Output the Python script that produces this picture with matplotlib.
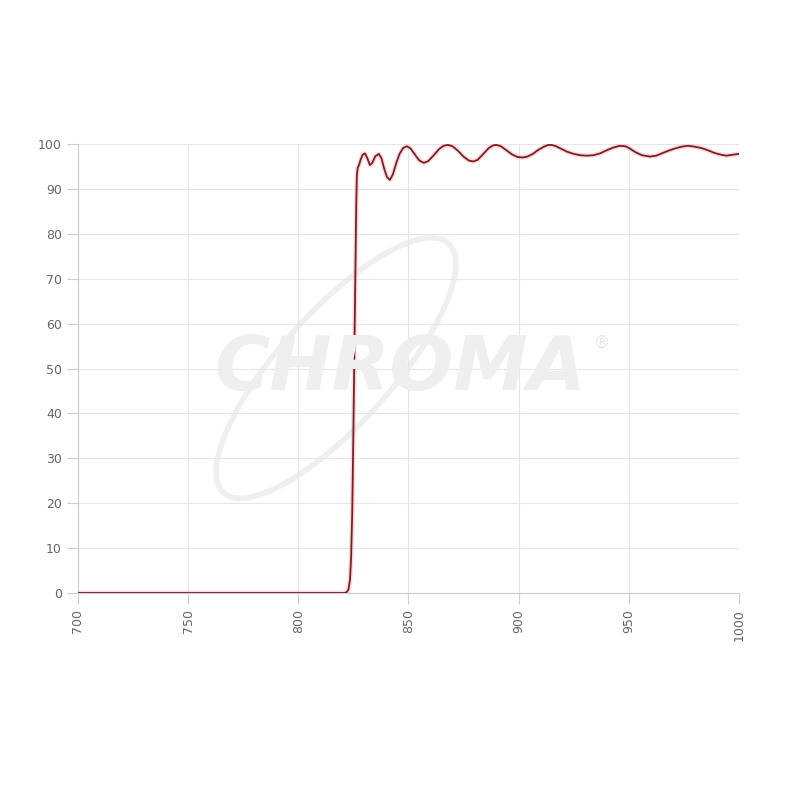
import numpy as np
import matplotlib
matplotlib.use('Agg')
import matplotlib.pyplot as plt
from matplotlib.patches import Ellipse

# wavelength (nm) and transmission (%)
wl = [700, 815, 821, 822, 822.8, 823.5, 824, 824.5, 825, 825.5, 826, 826.3, 826.6,
      827, 827.5, 828.3, 829.2, 830.3, 831.4, 832.5, 833.6, 835, 836.6, 837.8, 839,
      840.3, 841.6, 843, 844.5, 846, 847.6, 849.3, 851, 853, 855, 857, 859, 861.5,
      864, 866, 868, 870, 872.5, 875, 877.5, 879.5, 881.5, 884, 886.5, 888.5, 890,
      892, 894.5, 897, 899.5, 902, 904, 906.5, 909, 911.5, 913.5, 915, 917, 919.5,
      922, 925, 928, 931, 934, 937, 940, 943, 946, 948.5, 950.5, 953, 956, 959.6,
      962.5, 965, 968, 971, 974, 977, 980, 983, 986, 989, 992, 994.4, 997, 1000]
trans = [0, 0, 0, 0.2, 0.8, 3, 8, 18, 35, 55, 74, 86, 93,
         94.8, 95.2, 96.5, 97.6, 97.9, 96.8, 95.3, 95.8, 97.3, 97.8, 96.8, 94.5,
         92.6, 92.0, 93.3, 95.8, 97.8, 99.1, 99.5, 99.0, 97.6, 96.3, 95.8, 96.2, 97.5,
         98.9, 99.6, 99.8, 99.5, 98.5, 97.2, 96.3, 96.1, 96.5, 97.8, 99.1, 99.7, 99.8,
         99.5, 98.6, 97.7, 97.1, 97.0, 97.2, 97.8, 98.7, 99.4, 99.8, 99.8, 99.5, 98.9,
         98.3, 97.8, 97.5, 97.4, 97.5, 97.9, 98.6, 99.2, 99.6, 99.5, 99.0, 98.2, 97.5, 97.2,
         97.4, 97.9, 98.5, 99.0, 99.4, 99.6, 99.4, 99.1, 98.6, 98.0, 97.6, 97.4, 97.6, 97.8]

xticks = [700, 750, 800, 850, 900, 950, 1000]
yticks = [0, 10, 20, 30, 40, 50, 60, 70, 80, 90, 100]

fig = plt.figure(figsize=(8, 8), dpi=100)
ax = fig.add_axes([0.0975, 0.25875, 0.826, 0.56125])

# faint watermark
ring = Ellipse((0.42, 0.54), 0.42, 0.14, angle=48, transform=fig.transFigure,
               fill=False, ec='#efefef', lw=4, zorder=0)
fig.add_artist(ring)
fig.text(0.5, 0.538, 'CHROMA', ha='center', va='center',
         fontsize=54, fontweight='bold', style='italic', color='#efefef', zorder=0)
fig.text(0.752, 0.572, '®', ha='center', va='center', fontsize=12, color='#e8e8e8')

ax.plot(wl, trans, color='#f4a0a0', lw=3.5, alpha=0.35, zorder=3)
ax.plot(wl, trans, color='#7e1e24', lw=1.3, zorder=4)

ax.set_xlim(700, 1000)
ax.set_ylim(0, 100)
ax.set_xticks(xticks)
ax.set_yticks(yticks)
ax.set_xticklabels([str(v) for v in xticks], rotation=90)
ax.grid(True, color='#e6e6e6', lw=0.8)
ax.set_axisbelow(True)
ax.patch.set_alpha(0)
for s in ['top', 'right']:
    ax.spines[s].set_visible(False)
for s in ['left', 'bottom']:
    ax.spines[s].set_color('#cccccc')
ax.tick_params(colors='#cccccc', labelcolor='#666666', labelsize=9, length=8, width=0.8)

plt.savefig('out.png')
